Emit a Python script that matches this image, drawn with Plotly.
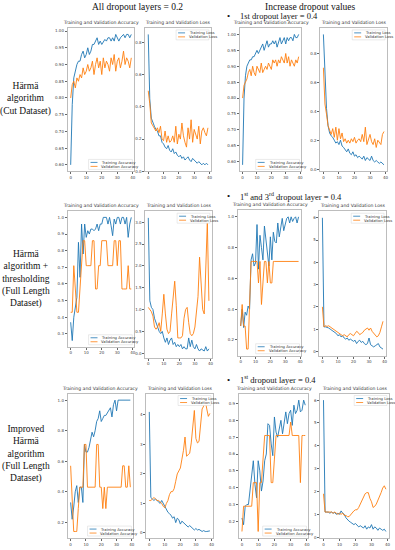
import plotly.graph_objects as go

# ---------------- data ----------------
epochs = list(range(40))

# Row 1: Härmä algorithm (Cut Dataset)
r1_acc02_train = [0.60,0.78,0.86,0.88,0.90,0.91,0.91,0.93,0.94,0.92, 0.93,0.95,0.93,0.94,0.96,0.96,0.97,0.98,0.96,0.97,
                  0.96,0.97,0.975,0.97,0.98,0.98,0.97,0.98,0.97,0.99, 0.98,0.97,0.98,0.985,0.99,0.98,0.99,0.99,0.98,0.99]
r1_acc02_val = [0.80,0.84,0.85,0.83,0.86,0.85,0.87,0.86,0.89,0.87, 0.88,0.90,0.88,0.89,0.91,0.87,0.90,0.92,0.89,0.91,
                0.87,0.92,0.89,0.91,0.90,0.88,0.92,0.90,0.93,0.88, 0.91,0.92,0.89,0.91,0.94,0.90,0.92,0.91,0.89,0.92]
r1_loss02_train = [0.85,0.45,0.33,0.30,0.28,0.26,0.25,0.22,0.22,0.18, 0.17,0.15,0.14,0.16,0.13,0.12,0.14,0.11,0.12,0.10,
                   0.09,0.10,0.08,0.09,0.07,0.08,0.09,0.07,0.06,0.08, 0.07,0.06,0.05,0.06,0.05,0.04,0.05,0.04,0.05,0.04]
r1_loss02_val = [0.50,0.42,0.30,0.28,0.26,0.25,0.27,0.24,0.28,0.20, 0.19,0.25,0.18,0.22,0.18,0.19,0.22,0.18,0.28,0.17,
                 0.23,0.20,0.30,0.22,0.18,0.15,0.27,0.20,0.32,0.18, 0.26,0.22,0.20,0.28,0.17,0.25,0.27,0.24,0.22,0.27]
r1_acc04_train = [0.59,0.80,0.87,0.90,0.91,0.92,0.92,0.93,0.93,0.94, 0.95,0.94,0.95,0.96,0.97,0.95,0.97,0.98,0.96,0.97,
                  0.97,0.98,0.97,0.98,0.96,0.98,0.99,0.97,0.98,0.99, 0.97,0.99,0.98,0.99,0.99,0.98,1.00,0.99,0.99,1.00]
r1_acc04_val = [0.80,0.84,0.85,0.86,0.88,0.89,0.87,0.90,0.88,0.87, 0.90,0.89,0.88,0.91,0.88,0.89,0.90,0.89,0.91,0.90,
                0.89,0.92,0.91,0.92,0.90,0.92,0.91,0.93,0.92,0.91, 0.94,0.91,0.93,0.90,0.92,0.91,0.90,0.92,0.91,0.93]
r1_loss04_train = [0.93,0.60,0.42,0.30,0.25,0.23,0.22,0.20,0.18,0.19, 0.17,0.20,0.16,0.15,0.13,0.12,0.14,0.11,0.10,0.12,
                   0.09,0.10,0.08,0.09,0.08,0.07,0.09,0.06,0.08,0.07, 0.06,0.09,0.06,0.05,0.06,0.05,0.04,0.05,0.04,0.03]
r1_loss04_val = [0.70,0.45,0.38,0.30,0.27,0.24,0.28,0.22,0.29,0.20, 0.28,0.21,0.25,0.19,0.21,0.18,0.20,0.18,0.21,0.19,
                 0.22,0.18,0.20,0.21,0.19,0.24,0.19,0.29,0.17,0.21, 0.24,0.19,0.17,0.21,0.15,0.20,0.18,0.17,0.24,0.26]

# Row 2: Härmä algorithm + thresholding (Full Length Dataset)
r2_acc02_train = [0.37,0.26,0.40,0.45,0.52,0.85,0.64,0.96,0.78,0.96, 0.88,0.92,0.90,0.93,0.93,0.92,0.93,0.96,0.92,0.96,
                  0.96,1.00,1.00,1.00,0.96,1.00,0.95,0.89,0.99,0.96, 1.00,1.00,0.96,1.00,1.00,0.96,1.00,0.88,0.96,1.00]
r2_acc02_val = [0.43,0.43,0.71,0.57,0.43,0.43,0.57,0.71,0.86,0.86, 0.71,0.71,0.71,0.71,0.86,0.86,0.57,0.57,0.71,0.71,
                0.86,0.86,0.86,0.86,0.71,0.71,0.71,0.71,0.86,0.86, 0.71,0.86,0.86,0.57,0.57,0.57,0.57,0.71,0.57,0.57]
r2_loss02_train = [3.10,1.20,1.05,1.00,0.80,0.70,0.55,0.50,0.45,0.50, 0.35,0.25,0.35,0.20,0.30,0.35,0.20,0.25,0.15,0.20,
                   0.15,0.20,0.10,0.15,0.10,0.10,0.35,0.15,0.30,0.15, 0.10,0.20,0.10,0.05,0.10,0.08,0.05,0.15,0.05,0.10]
r2_loss02_val = [1.05,1.00,0.95,0.85,0.60,0.55,0.60,0.70,0.50,0.90, 1.35,0.90,0.55,0.45,0.50,0.90,1.30,1.65,1.10,0.35,
                 0.35,0.35,0.40,0.80,1.00,1.05,0.70,0.45,0.40,0.45, 0.60,0.90,1.30,2.20,1.50,1.00,0.90,2.00,3.00,1.20]
r2_acc04_train = [0.29,0.40,0.28,0.38,0.36,0.42,0.40,0.72,0.76,0.68, 0.70,0.95,0.66,0.88,0.80,0.72,0.94,0.86,0.78,0.68,
                  0.87,0.72,0.90,0.84,0.83,0.96,0.87,0.93,0.99,0.91, 0.96,0.99,1.00,0.96,1.00,0.97,0.99,1.00,0.96,1.00]
r2_acc04_val = [0.29,0.43,0.29,0.29,0.14,0.14,0.43,0.71,0.71,0.71, 0.71,0.71,0.57,0.71,0.43,0.57,0.71,0.71,0.57,0.71,
                0.57,0.57,0.71,0.71,0.71,0.71,0.71,0.71,0.71,0.71, 0.71,0.71,0.71,0.71,0.71,0.71,0.71,0.71,0.71,0.71]
r2_loss04_train = [6.00,1.10,1.10,1.08,1.05,1.00,0.95,0.90,0.85,0.80, 0.70,0.75,0.65,0.70,0.60,0.55,0.60,0.50,0.55,0.50,
                   0.45,0.50,0.35,0.45,0.50,0.40,0.45,0.35,0.30,0.35, 0.60,0.30,0.25,0.20,0.25,0.30,0.35,0.20,0.15,0.10]
r2_loss04_val = [2.00,1.10,1.15,1.12,1.15,1.10,1.05,1.00,0.95,0.90, 0.85,0.80,0.75,0.70,0.75,0.70,0.65,0.75,0.80,0.75,
                 0.70,0.80,0.90,0.85,0.75,0.80,0.85,0.95,1.00,1.05, 0.95,1.05,0.90,0.80,0.70,0.65,0.70,0.85,1.10,1.35]

# Row 3: Improved Härmä algorithm (Full Length Dataset)
r3_acc02_train = [0.33,0.22,0.30,0.40,0.44,0.33,0.43,0.43,0.33,0.71, 0.66,0.66,0.69,0.73,0.79,0.76,0.80,0.86,0.88,0.93,
                  0.86,0.88,0.90,0.90,0.92,0.93,0.95,0.89,0.97,1.00, 0.93,1.00,1.00,1.00,1.00,1.00,1.00,1.00,1.00,1.00]
r3_acc02_val = [0.57,0.29,0.14,0.14,0.14,0.29,0.43,0.43,0.43,0.71, 0.71,0.43,0.43,0.43,0.43,0.43,0.43,0.71,0.71,0.43,
                0.43,0.29,0.43,0.29,0.43,0.43,0.43,0.43,0.43,0.43, 0.43,0.43,0.43,0.43,0.57,0.57,0.43,0.43,0.57,0.43]
r3_loss02_train = [4.10,1.20,1.15,1.10,1.15,1.10,1.05,1.00,1.10,1.00, 0.85,0.80,0.70,0.65,0.60,0.50,0.55,0.35,0.50,0.45,
                   0.30,0.40,0.35,0.30,0.25,0.20,0.25,0.20,0.15,0.10, 0.15,0.10,0.12,0.08,0.05,0.08,0.05,0.05,0.06,0.07]
r3_loss02_val = [1.10,1.10,1.15,1.20,1.15,1.10,1.10,1.05,1.00,0.90, 0.85,1.00,1.10,1.30,1.40,1.40,1.50,1.75,2.00,2.10,
                 2.20,2.50,2.80,3.25,2.60,2.65,2.70,3.05,3.50,4.15, 3.20,3.05,3.10,3.60,4.20,4.30,4.50,4.20,3.95,4.05]
r3_acc04_train = [0.22,0.18,0.29,0.30,0.30,0.38,0.45,0.56,0.42,0.34, 0.56,0.50,0.38,0.44,0.56,0.60,0.78,0.77,0.66,0.59,
                  0.82,0.73,0.70,0.76,0.80,0.72,0.80,0.85,0.78,0.84, 0.86,0.77,0.89,0.84,0.86,0.92,0.85,0.86,0.92,0.89]
r3_acc04_val = [0.14,0.29,0.29,0.29,0.29,0.29,0.29,0.43,0.43,0.43, 0.14,0.43,0.43,0.57,0.71,0.71,0.71,0.71,0.43,0.43,
                0.57,0.71,0.71,0.71,0.71,0.71,0.71,0.71,0.71,0.71, 0.79,0.71,0.71,0.71,0.71,0.71,0.43,0.71,0.71,0.71]
r3_loss04_train = [6.00,1.10,1.10,1.10,1.05,1.10,1.05,1.08,1.00,1.05, 1.00,1.15,1.05,1.00,0.85,0.75,0.70,0.65,0.60,0.55,
                   0.60,0.50,0.45,0.50,0.45,0.40,0.50,0.35,0.45,0.40, 0.55,0.35,0.45,0.40,0.30,0.40,0.35,0.30,0.35,0.25]
r3_loss04_val = [1.90,1.10,1.10,1.10,1.08,1.10,1.05,1.10,1.05,1.00, 1.05,1.00,1.05,0.95,0.95,0.90,0.90,1.00,1.10,1.15,
                 1.20,1.20,1.30,1.45,1.60,1.80,1.90,1.95,1.95,1.70, 1.55,1.30,1.35,1.45,1.60,1.75,1.95,2.15,2.25,2.10]

x_ticks = [0, 10, 20, 30, 40]
row_labels = ["Härmä<br>algorithm<br>(Cut Dataset)",
              "Härmä<br>algorithm +<br>thresholding<br>(Full Length<br>Dataset)",
              "Improved<br>Härmä<br>algorithm<br>(Full Length<br>Dataset)"]
col_headers = ["All dropout layers = 0.2", "Increase dropout values"]
row_bullets = ["1st dropout layer = 0.4",
               "1<sup>st</sup> and 3<sup>rd</sup> dropout layer = 0.4",
               "1<sup>st</sup> dropout layer = 0.4"]

# ---------------- layout helpers ----------------
W, H = 395, 550
BLUE, ORANGE = "#1f77b4", "#ff7f0e"
FRAME = "#bdbdbd"
TXT = "#444444"
SANS = "DejaVu Sans"
SERIF = "Liberation Serif"

def X(px):
    return px / W

def Y(py):
    return 1 - py / H

# (train, val, kind, dtick, tickformat, frame rect px: left, right, top, bottom)
panels = [
    (r1_acc02_train, r1_acc02_val, "acc", 0.05, ".2f", (68, 135, 28, 172)),
    (r1_loss02_train, r1_loss02_val, "loss", 0.2, ".1f", (146, 212, 28, 172)),
    (r1_acc04_train, r1_acc04_val, "acc", 0.05, ".2f", (241, 303, 28, 172)),
    (r1_loss04_train, r1_loss04_val, "loss", 0.2, ".1f", (322, 389, 28, 172)),
    (r2_acc02_train, r2_acc02_val, "acc", 0.1, ".1f", (68, 135, 212, 348)),
    (r2_loss02_train, r2_loss02_val, "loss", 0.5, ".1f", (146, 213, 212, 359)),
    (r2_acc04_train, r2_acc04_val, "acc", 0.2, ".1f", (239, 303, 211, 357)),
    (r2_loss04_train, r2_loss04_val, "loss", 1, "d", (321, 388, 212, 357)),
    (r3_acc02_train, r3_acc02_val, "acc", 0.2, ".1f", (68, 134, 395, 540)),
    (r3_loss02_train, r3_loss02_val, "loss", 1, "d", (147, 214, 395, 540)),
    (r3_acc04_train, r3_acc04_val, "acc", 0.1, ".1f", (240, 310, 395, 540)),
    (r3_loss04_train, r3_loss04_val, "loss", 1, "d", (322, 391, 395, 540)),
]

fig = go.Figure()
layout = dict(width=W, height=H, margin=dict(l=0, r=0, t=0, b=0),
              paper_bgcolor="white", plot_bgcolor="white", showlegend=False)
shapes, annotations = [], []

for i, (tr, va, kind, dt, fmt, rect) in enumerate(panels, start=1):
    l, r, t, b = rect
    xa = "x" if i == 1 else f"x{i}"
    ya = "y" if i == 1 else f"y{i}"
    name = "Accuracy" if kind == "acc" else "Loss"
    fig.add_trace(go.Scatter(x=epochs, y=tr, mode="lines", xaxis=xa, yaxis=ya,
                             line=dict(color=BLUE, width=0.9), name=f"Training {name}"))
    fig.add_trace(go.Scatter(x=epochs, y=va, mode="lines", xaxis=xa, yaxis=ya,
                             line=dict(color=ORANGE, width=0.9), name=f"Validation {name}"))
    lo, hi = min(tr + va), max(tr + va)
    pad = 0.05 * (hi - lo)
    axis_common = dict(showgrid=False, zeroline=False, showline=True, mirror=True,
                       linecolor=FRAME, linewidth=0.8, ticks="outside", ticklen=2,
                       tickwidth=0.5, tickcolor="#666", tickfont=dict(size=4, color=TXT, family=SANS))
    layout["xaxis" if i == 1 else f"xaxis{i}"] = dict(
        axis_common, domain=[X(l), X(r)], anchor=ya, range=[-1.95, 40.95],
        tickvals=x_ticks)
    layout["yaxis" if i == 1 else f"yaxis{i}"] = dict(
        axis_common, domain=[Y(b), Y(t)], anchor=xa, range=[lo - pad, hi + pad],
        dtick=dt, tick0=0, tickformat=fmt)
    # panel title
    annotations.append(dict(x=X((l + r) / 2), y=Y(t - 1), xref="paper", yref="paper",
                            text=f"Training and Validation {name}", showarrow=False,
                            xanchor="center", yanchor="bottom",
                            font=dict(size=4.6, color="#333", family=SANS)))
    # legend box
    bw = 44 if kind == "acc" else 33
    bh = 10
    x1 = r - 2
    x0 = x1 - bw
    if kind == "acc":
        y1 = b - 2
        y0 = y1 - bh
    else:
        y0 = t + 2
        y1 = y0 + bh
    shapes.append(dict(type="rect", xref="paper", yref="paper", x0=X(x0), x1=X(x1),
                       y0=Y(y1), y1=Y(y0), line=dict(color="#d5d5d5", width=0.5),
                       fillcolor="white", layer="above"))
    for k, (col, lab) in enumerate([(BLUE, f"Training {name}"), (ORANGE, f"Validation {name}")]):
        yy = y0 + 3 + k * 4
        shapes.append(dict(type="line", xref="paper", yref="paper", x0=X(x0 + 2), x1=X(x0 + 9),
                           y0=Y(yy), y1=Y(yy), line=dict(color=col, width=0.8), layer="above"))
        annotations.append(dict(x=X(x0 + 11), y=Y(yy), xref="paper", yref="paper", text=lab,
                                showarrow=False, xanchor="left", yanchor="middle",
                                font=dict(size=3.8, color="#333", family=SANS)))

# column headers
annotations.append(dict(x=X(138), y=Y(7), xref="paper", yref="paper", text=col_headers[0],
                        showarrow=False, xanchor="center", yanchor="middle",
                        font=dict(size=9.5, color="#111", family=SERIF)))
annotations.append(dict(x=X(312), y=Y(7), xref="paper", yref="paper", text=col_headers[1],
                        showarrow=False, xanchor="center", yanchor="middle",
                        font=dict(size=9.5, color="#111", family=SERIF)))
# bullet headings
for by, txt in zip([16, 197, 381], row_bullets):
    annotations.append(dict(x=X(226), y=Y(by), xref="paper", yref="paper",
                            text="•", showarrow=False, xanchor="left", yanchor="middle",
                            font=dict(size=9, color="#111", family=SERIF)))
    annotations.append(dict(x=X(239), y=Y(by), xref="paper", yref="paper",
                            text=txt, showarrow=False, xanchor="left", yanchor="middle",
                            font=dict(size=8.5, color="#111", family=SERIF)))
# row labels
for ly, txt in zip([99, 280, 456], row_labels):
    annotations.append(dict(x=X(26), y=Y(ly), xref="paper", yref="paper", text=txt,
                            showarrow=False, xanchor="center", yanchor="middle", align="center",
                            font=dict(size=9.5, color="#111", family=SERIF)))

layout["shapes"] = shapes
layout["annotations"] = annotations
fig.update_layout(**layout)
fig.write_html("out.html", config={"displayModeBar": False},
               post_script="document.body.style.margin='0px';")
